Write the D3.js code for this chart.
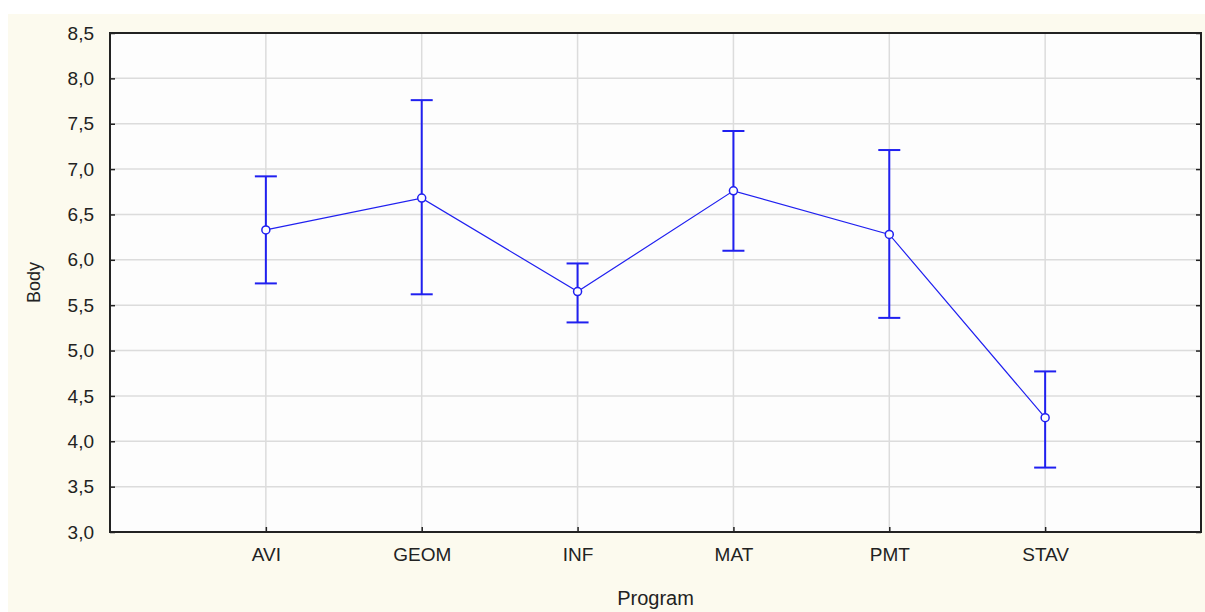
<html>
<head>
<script src="https://d3js.org/d3.v7.min.js"></script>
<style>
  body { margin: 0; background: #fff; }
  text { font-family: "Liberation Sans", Arial, sans-serif; fill: #222; }
</style>
</head>
<body>
<svg id="chart" width="1205" height="612"></svg>
<script>
var programs = ["AVI", "GEOM", "INF", "MAT", "PMT", "STAV"];
var means = [6.33, 6.68, 5.65, 6.76, 6.28, 4.26];
var upper = [6.92, 7.76, 5.96, 7.42, 7.21, 4.77];
var lower = [5.74, 5.62, 5.31, 6.10, 5.36, 3.71];
var yTicks = [3.0, 3.5, 4.0, 4.5, 5.0, 5.5, 6.0, 6.5, 7.0, 7.5, 8.0, 8.5];

var svg = d3.select("#chart");
// note: "top" is a reserved window property, so use prefixed names
var pLeft = 110, pRight = 1201, pTop = 33, pBottom = 532;

// cream frame
svg.append("rect").attr("x", 8).attr("y", 14).attr("width", 1197).attr("height", 598)
  .attr("fill", "#fcfaee");
svg.append("rect").attr("x", pLeft).attr("y", pTop).attr("width", pRight - pLeft).attr("height", pBottom - pTop)
  .attr("fill", "#fdfdfd");

var x = d3.scalePoint().domain(programs).range([pLeft, pRight]).padding(1);
var y = d3.scaleLinear().domain([3, 8.5]).range([pBottom, pTop]);

var fmt = function(d) { return d3.format(".1f")(d).replace(".", ","); };

// grid
svg.append("g").selectAll("line").data(yTicks.slice(1, -1)).join("line")
  .attr("x1", pLeft).attr("x2", pRight).attr("y1", d => y(d)).attr("y2", d => y(d))
  .attr("stroke", "#dcdcdc").attr("stroke-width", 1.5);
svg.append("g").selectAll("line").data(programs).join("line")
  .attr("x1", d => x(d)).attr("x2", d => x(d)).attr("y1", pTop).attr("y2", pBottom)
  .attr("stroke", "#dcdcdc").attr("stroke-width", 1.5);

// axes: ticks point inward
var yAxis = svg.append("g").attr("transform", "translate(" + pLeft + ",0)")
  .call(d3.axisLeft(y).tickValues(yTicks).tickFormat(fmt).tickSize(-5).tickPadding(16));
var yAxisR = svg.append("g").attr("transform", "translate(" + pRight + ",0)")
  .call(d3.axisRight(y).tickValues(yTicks).tickFormat("").tickSize(-5));
var xAxis = svg.append("g").attr("transform", "translate(0," + pBottom + ")")
  .call(d3.axisBottom(x).tickSize(-5).tickPadding(16));
[yAxis, yAxisR, xAxis].forEach(function(g) {
  g.select(".domain").remove();
  g.selectAll("line").attr("stroke", "#222").attr("stroke-width", 1.5);
  g.selectAll("text").attr("fill", "#222")
    .attr("font-family", "'Liberation Sans', Arial, sans-serif");
});
yAxis.selectAll("text").attr("font-size", 19);
xAxis.selectAll("text").attr("font-size", 19);

// border
svg.append("rect").attr("x", pLeft).attr("y", pTop).attr("width", pRight - pLeft).attr("height", pBottom - pTop)
  .attr("fill", "none").attr("stroke", "#222").attr("stroke-width", 2);

// error bars
var data = programs.map(function(p, i) { return { p: p, m: means[i], u: upper[i], l: lower[i] }; });
var blue = "#2020f0";
var eb = svg.append("g").attr("stroke", blue).attr("stroke-width", 2);
eb.selectAll(".v").data(data).join("line").attr("class", "v")
  .attr("x1", d => x(d.p)).attr("x2", d => x(d.p)).attr("y1", d => y(d.u)).attr("y2", d => y(d.l));
eb.selectAll(".t").data(data).join("line").attr("class", "t")
  .attr("x1", d => x(d.p) - 11).attr("x2", d => x(d.p) + 11).attr("y1", d => y(d.u)).attr("y2", d => y(d.u));
eb.selectAll(".b").data(data).join("line").attr("class", "b")
  .attr("x1", d => x(d.p) - 11).attr("x2", d => x(d.p) + 11).attr("y1", d => y(d.l)).attr("y2", d => y(d.l));

// mean line
svg.append("path").datum(data)
  .attr("d", d3.line().x(d => x(d.p)).y(d => y(d.m)))
  .attr("fill", "none").attr("stroke", blue).attr("stroke-width", 1.2);
svg.append("g").selectAll("circle").data(data).join("circle")
  .attr("cx", d => x(d.p)).attr("cy", d => y(d.m)).attr("r", 4)
  .attr("fill", "#fdfdfd").attr("stroke", blue).attr("stroke-width", 1.5);

// axis titles
svg.append("text").attr("x", (pLeft + pRight) / 2).attr("y", 605).attr("text-anchor", "middle")
  .attr("font-size", 20).text("Program");
svg.append("text").attr("transform", "translate(40," + (pTop + pBottom) / 2 + ") rotate(-90)")
  .attr("text-anchor", "middle").attr("font-size", 18).text("Body");
</script>
</body>
</html>
